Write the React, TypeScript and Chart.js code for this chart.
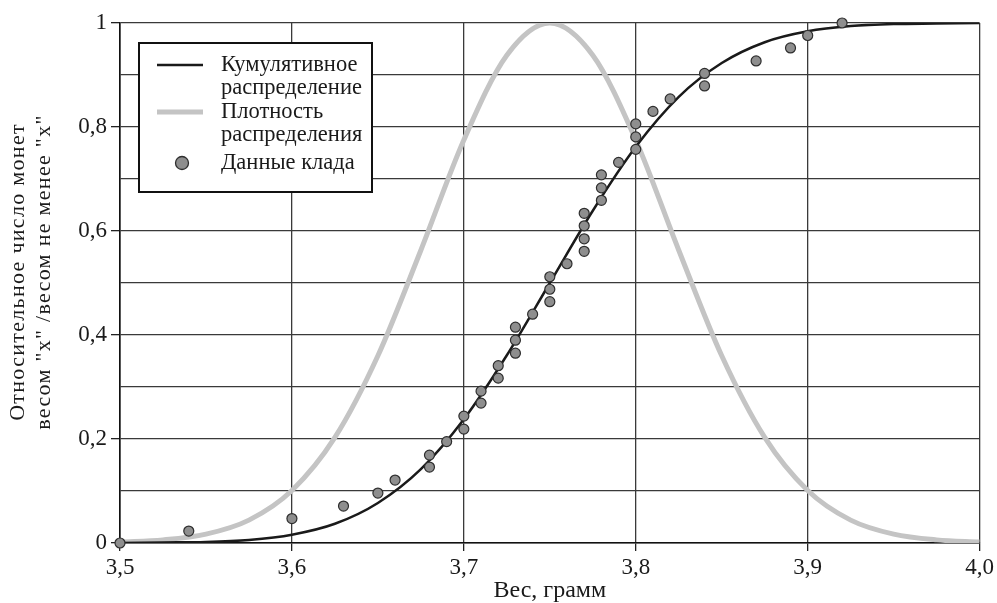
import React, { useEffect, useRef } from 'react';
import { Chart, registerables } from 'chart.js';

Chart.register(...registerables);

// Smooth curves, values
const curveX = [3.5, 3.525, 3.55, 3.575, 3.6, 3.625, 3.65, 3.675, 3.7, 3.725, 3.75, 3.775, 3.8, 3.825, 3.85, 3.875, 3.9, 3.925, 3.95, 3.975, 4.0];
const cumulative = [0.0, 0.001, 0.002, 0.006, 0.016, 0.037, 0.077, 0.142, 0.238, 0.361, 0.5, 0.639, 0.762, 0.858, 0.923, 0.963, 0.984, 0.994, 0.998, 0.999, 1.0];
const density = [0.002, 0.006, 0.017, 0.044, 0.101, 0.203, 0.36, 0.563, 0.775, 0.938, 1.0, 0.938, 0.775, 0.563, 0.36, 0.203, 0.101, 0.044, 0.017, 0.006, 0.002];

// Hoard data points
const hoardX = [3.5, 3.54, 3.6, 3.63, 3.65, 3.66, 3.68, 3.68, 3.69, 3.7, 3.7, 3.71, 3.71, 3.72, 3.72, 3.73, 3.73, 3.73, 3.74, 3.75, 3.75, 3.75, 3.76, 3.77, 3.77, 3.77, 3.77, 3.78, 3.78, 3.78, 3.79, 3.8, 3.8, 3.8, 3.81, 3.82, 3.84, 3.84, 3.87, 3.89, 3.9, 3.92];
const hoardY = [0, 0.023, 0.047, 0.071, 0.096, 0.121, 0.146, 0.169, 0.195, 0.219, 0.244, 0.269, 0.292, 0.317, 0.341, 0.365, 0.39, 0.415, 0.44, 0.464, 0.488, 0.512, 0.537, 0.561, 0.585, 0.61, 0.634, 0.659, 0.683, 0.708, 0.732, 0.757, 0.781, 0.806, 0.83, 0.854, 0.879, 0.903, 0.927, 0.952, 0.976, 1.0];

const legendLabels = [['Кумулятивное', 'распределение'], ['Плотность', 'распределения'], ['Данные клада']];
const yTitle = ['Относительное число монет', 'весом "х" /весом не менее "х"'];
const xTitle = 'Вес, грамм';

const FONT = '"Liberation Serif", "DejaVu Serif", serif';
const INK = '#1a1a1a';
const DENSITY_COLOR = '#c4c4c4';
const POINT_FILL = '#8e8e8e';
const POINT_BORDER = '#2e2e2e';

const fmt = (v: number) => {
  const r = Math.round(v * 10) / 10;
  if (Math.abs(r - Math.round(r)) < 1e-9) return String(Math.round(r));
  return r.toFixed(1).replace('.', ',');
};

const overlayPlugin = {
  id: 'overlay',
  afterDatasetsDraw(chart: any) {
    const ctx = chart.ctx as CanvasRenderingContext2D;
    ctx.save();
    // legend box
    const bx = 139, by = 43, bw = 233, bh = 149;
    ctx.fillStyle = '#ffffff';
    ctx.fillRect(bx, by, bw, bh);
    ctx.strokeStyle = '#111';
    ctx.lineWidth = 2;
    ctx.strokeRect(bx, by, bw, bh);

    ctx.lineCap = 'butt';
    ctx.strokeStyle = INK;
    ctx.lineWidth = 2.5;
    ctx.beginPath();
    ctx.moveTo(157, 65);
    ctx.lineTo(203, 65);
    ctx.stroke();

    ctx.strokeStyle = DENSITY_COLOR;
    ctx.lineWidth = 5;
    ctx.beginPath();
    ctx.moveTo(157, 112);
    ctx.lineTo(203, 112);
    ctx.stroke();

    ctx.fillStyle = POINT_FILL;
    ctx.strokeStyle = POINT_BORDER;
    ctx.lineWidth = 1.3;
    ctx.beginPath();
    ctx.arc(182, 163, 6.5, 0, Math.PI * 2);
    ctx.fill();
    ctx.stroke();

    ctx.fillStyle = INK;
    ctx.font = `22.5px ${FONT}`;
    ctx.textAlign = 'left';
    ctx.textBaseline = 'middle';
    const starts = [65, 112, 163];
    legendLabels.forEach((lines, i) => {
      lines.forEach((t, j) => ctx.fillText(t, 221, starts[i] + j * 23));
    });

    // y axis title
    ctx.font = `22px ${FONT}`;
    (ctx as any).letterSpacing = '1.3px';
    ctx.textAlign = 'center';
    ctx.textBaseline = 'middle';
    const cy = 272;
    const xs = [18, 44];
    yTitle.forEach((t, i) => {
      ctx.save();
      ctx.translate(xs[i], cy);
      ctx.rotate(-Math.PI / 2);
      ctx.fillText(t, 0, 0);
      ctx.restore();
    });
    ctx.restore();
  },
};

export default function App() {
  const ref = useRef<HTMLCanvasElement | null>(null);
  useEffect(() => {
    if (!ref.current) return;
    const chart = new Chart(ref.current, {
      type: 'line',
      data: {
        datasets: [
          {
            type: 'scatter',
            label: legendLabels[2].join(' '),
            data: hoardX.map((x, i) => ({ x, y: hoardY[i] })),
            showLine: false,
            pointRadius: 5,
            pointBackgroundColor: POINT_FILL,
            pointBorderColor: POINT_BORDER,
            pointBorderWidth: 1.2,
            clip: false,
            order: 0,
          } as any,
          {
            label: legendLabels[0].join(' '),
            data: curveX.map((x, i) => ({ x, y: cumulative[i] })),
            borderColor: INK,
            borderWidth: 2.5,
            pointRadius: 0,
            cubicInterpolationMode: 'monotone',
            fill: false,
            order: 1,
          },
          {
            label: legendLabels[1].join(' '),
            data: curveX.map((x, i) => ({ x, y: density[i] })),
            borderColor: DENSITY_COLOR,
            borderWidth: 5,
            pointRadius: 0,
            cubicInterpolationMode: 'monotone',
            fill: false,
            order: 2,
          },
        ],
      },
      options: {
        responsive: false,
        animation: false,
        layout: { padding: { top: 23, right: 16, left: 0, bottom: 0 } },
        plugins: { legend: { display: false }, tooltip: { enabled: false } },
        scales: {
          x: {
            type: 'linear',
            min: 3.5,
            max: 4.0,
            afterFit: (s: any) => { s.height = 60; },
            ticks: {
              stepSize: 0.1,
              color: INK,
              font: { family: FONT, size: 23 },
              padding: 3,
              maxRotation: 0,
              callback: (v: any) => Number(v).toFixed(1).replace('.', ','),
            },
            grid: { color: '#3a3a3a', lineWidth: 1.3, tickLength: 8, tickColor: '#222' },
            border: { display: true, color: '#111', width: 1.6 },
            title: { display: true, text: xTitle, color: INK, font: { family: FONT, size: 24, lineHeight: 1 }, padding: { top: 0, bottom: 0 } },
          },
          y: {
            type: 'linear',
            min: 0,
            max: 1,
            afterFit: (s: any) => { s.width = 120; },
            ticks: {
              stepSize: 0.1,
              color: INK,
              font: { family: FONT, size: 23 },
              padding: 4,
              callback: (v: any) => (Math.round(Number(v) * 10) % 2 === 0 ? fmt(Number(v)) : ''),
            },
            grid: {
              color: '#3a3a3a',
              lineWidth: 1.3,
              tickLength: 9,
              tickColor: (c: any) => (c.tick && Math.round(c.tick.value * 10) % 2 === 0 ? '#222' : 'rgba(0,0,0,0)'),
            },
            border: { display: true, color: '#111', width: 1.6 },
          },
        },
      },
      plugins: [overlayPlugin],
    });
    return () => chart.destroy();
  }, []);
  return (
    <div style={{ position: 'fixed', left: 0, top: 0, width: 997, height: 603, background: '#fff' }}>
      <canvas ref={ref} width={997} height={603} style={{ display: 'block' }} />
    </div>
  );
}
